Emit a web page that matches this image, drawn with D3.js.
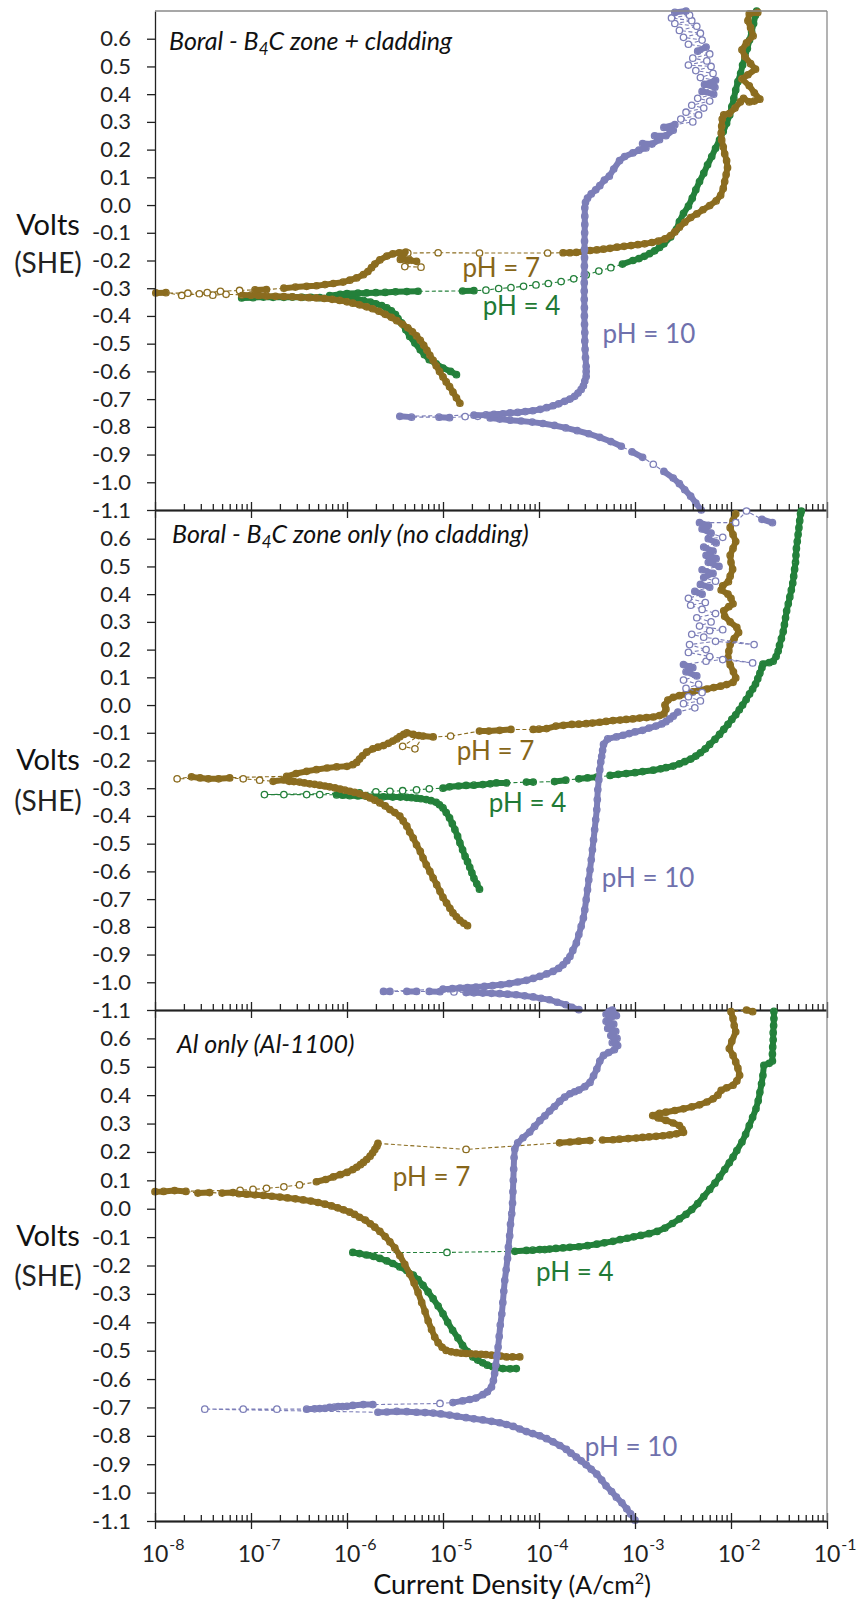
<!DOCTYPE html>
<html lang="en">
<head>
<meta charset="UTF-8">
<title>Polarization curves - Boral and Al-1100</title>
<script src="https://d3js.org/d3.v7.min.js"></script>
<style>
  body { margin: 0; background: #fff; }
  svg { display: block; font-family: Lato, "Open Sans", sans-serif; }
</style>
</head>
<body>
<svg width="861" height="1600"></svg>
<script>
// axis ticks
const yTicks = [0.6, 0.5, 0.4, 0.3, 0.2, 0.1, 0.0, -0.1, -0.2, -0.3, -0.4, -0.5, -0.6, -0.7, -0.8, -0.9, -1.0, -1.1];
const xDecades = [1e-8, 1e-7, 1e-6, 1e-5, 1e-4, 1e-3, 1e-2, 1e-1];
const xExponents = ["-8", "-7", "-6", "-5", "-4", "-3", "-2", "-1"];
const panelTitles = [["Boral - B", "4", "C zone + cladding"], ["Boral - B", "4", "C zone only (no cladding)"], ["Al only (Al-1100)"]];
const phNames = { ph7: "pH = 7", ph4: "pH = 4", ph10: "pH = 10" };

// data: [current density A/cm2, potential V vs SHE], in scan order
// --- panel 1: Boral B4C zone + cladding
const p1_ph7 = [
  [1.5e-5,-0.715],[1.38e-5,-0.695],[1.27e-5,-0.675],[1.17e-5,-0.655],[1.08e-5,-0.638],[1.0e-5,-0.62],[9.2e-6,-0.6],[8.5e-6,-0.58],[7.9e-6,-0.56],[7.3e-6,-0.542],[6.8e-6,-0.524],[6.3e-6,-0.506],[5.8e-6,-0.488],[5.3e-6,-0.472],[4.8e-6,-0.457],[4.3e-6,-0.443],[3.8e-6,-0.43],[3.3e-6,-0.417],[2.9e-6,-0.405],[2.5e-6,-0.394],[2.15e-6,-0.383],[1.85e-6,-0.374],[1.6e-6,-0.367],[1.35e-6,-0.36],[1.15e-6,-0.354],[1.0e-6,-0.349],[8.4e-7,-0.344],[7.0e-7,-0.34],[5.8e-7,-0.337],[4.8e-7,-0.335],[4.0e-7,-0.334],[3.3e-7,-0.333],[2.7e-7,-0.331],[2.2e-7,-0.33],[1.8e-7,-0.329],[1.45e-7,-0.328],[1.2e-7,-0.326],[1.0e-7,-0.325],[8.0e-8,-0.324],[5.5e-8,-0.322],[4.0e-8,-0.325],[2.9e-8,-0.32],[1.9e-8,-0.326],[1.3e-8,-0.316],[1.02e-8,-0.317],
  [2.2e-8,-0.318],[3.5e-8,-0.316],[4.8e-8,-0.311],[7.6e-8,-0.308],[1.1e-7,-0.306],[1.45e-7,-0.305],[2.2e-7,-0.3],[2.9e-7,-0.296],[3.8e-7,-0.293],[4.8e-7,-0.291],[5.9e-7,-0.287],[7.2e-7,-0.283],[9.1e-7,-0.278],[1.07e-6,-0.271],[1.26e-6,-0.263],[1.48e-6,-0.251],[1.65e-6,-0.24],[1.8e-6,-0.226],[1.95e-6,-0.213],[2.2e-6,-0.198],[2.6e-6,-0.184],[3.0e-6,-0.176],[3.5e-6,-0.172],[4.1e-6,-0.17],
  [3.6e-6,-0.196],[4.4e-6,-0.199],[5.3e-6,-0.203],[4.0e-6,-0.222],[5.9e-6,-0.224],
  [4.3e-6,-0.173],[8.9e-6,-0.172],[2.4e-5,-0.173],[1.23e-4,-0.173],[1.78e-4,-0.172],[2.1e-4,-0.172],[2.45e-4,-0.171],[2.9e-4,-0.168],[3.4e-4,-0.164],[4.0e-4,-0.162],[4.7e-4,-0.159],[5.5e-4,-0.156],[6.5e-4,-0.152],[7.7e-4,-0.149],[9.1e-4,-0.146],[1.07e-3,-0.143],[1.26e-3,-0.14],[1.5e-3,-0.135],[1.75e-3,-0.13],[2.05e-3,-0.122],[2.35e-3,-0.11],[2.6e-3,-0.097],[2.9e-3,-0.08],[3.3e-3,-0.062],[3.8e-3,-0.045],[4.4e-3,-0.032],[5.1e-3,-0.017],[6.0e-3,-0.002],[7.0e-3,0.015],[7.8e-3,0.035],[8.3e-3,0.06],[8.6e-3,0.085],[8.9e-3,0.11],[9.2e-3,0.135],[9.0e-3,0.16],[8.6e-3,0.185],[8.3e-3,0.21],[8.0e-3,0.235],[7.9e-3,0.26],[8.0e-3,0.285],[8.1e-3,0.31],[8.4e-3,0.325],[9.6e-3,0.33],[1.1e-2,0.35],[1.25e-2,0.372],[1.35e-2,0.385],[1.55e-2,0.372],[1.75e-2,0.375],[2.0e-2,0.382],[1.75e-2,0.405],[1.55e-2,0.43],[1.3e-2,0.455],[1.5e-2,0.47],[1.8e-2,0.49],[1.6e-2,0.51],[1.4e-2,0.535],[1.3e-2,0.56],[1.45e-2,0.585],[1.7e-2,0.61],[1.6e-2,0.64],[1.5e-2,0.665],[1.55e-2,0.69],[1.9e-2,0.695]
];
const p1_ph4 = [
  [1.38e-5,-0.612],[1.2e-5,-0.6],[1.0e-5,-0.588],[8.5e-6,-0.573],[7.2e-6,-0.558],[6.4e-6,-0.54],[5.8e-6,-0.522],[5.1e-6,-0.498],[4.5e-6,-0.474],[4.1e-6,-0.45],[3.7e-6,-0.425],[3.4e-6,-0.41],[3.2e-6,-0.395],[2.9e-6,-0.382],[2.6e-6,-0.371],[2.3e-6,-0.363],[2.0e-6,-0.356],[1.75e-6,-0.35],[1.48e-6,-0.344],[1.25e-6,-0.34],[1.07e-6,-0.336],[9.0e-7,-0.335],[7.8e-7,-0.334],[6.5e-7,-0.334],[5.2e-7,-0.334],[4.2e-7,-0.333],[3.4e-7,-0.333],[2.7e-7,-0.332],[2.2e-7,-0.333],[1.7e-7,-0.333],[1.35e-7,-0.332],[1.05e-7,-0.334],[8.0e-8,-0.335],
  [6.6e-7,-0.327],[8.5e-7,-0.322],[1.0e-6,-0.319],[1.3e-6,-0.318],[1.6e-6,-0.317],[2.0e-6,-0.316],[2.5e-6,-0.315],[3.2e-6,-0.313],[4.2e-6,-0.312],[5.5e-6,-0.311],[1.6e-5,-0.31],[2.1e-5,-0.309],[2.8e-5,-0.307],[3.8e-5,-0.301],[5.1e-5,-0.298],[6.9e-5,-0.293],[9.3e-5,-0.288],[1.25e-4,-0.283],[1.7e-4,-0.276],[2.3e-4,-0.266],[3.1e-4,-0.252],[4.2e-4,-0.238],[5.6e-4,-0.226],[7.4e-4,-0.213],[9.5e-4,-0.2],[1.1e-3,-0.193],[1.25e-3,-0.185],[1.42e-3,-0.175],[1.6e-3,-0.165],[1.8e-3,-0.153],[2.0e-3,-0.14],[2.35e-3,-0.115],[2.7e-3,-0.088],[2.9e-3,-0.06],[3.2e-3,-0.03],[3.6e-3,-0.004],[3.95e-3,0.025],[4.3e-3,0.055],[4.7e-3,0.085],[5.2e-3,0.115],[5.7e-3,0.145],[6.3e-3,0.175],[6.9e-3,0.205],[7.6e-3,0.235],[8.3e-3,0.265],[9.0e-3,0.295],[9.7e-3,0.325],[1.02e-2,0.355],[1.07e-2,0.385],[1.12e-2,0.415],[1.18e-2,0.445],[1.26e-2,0.475],[1.32e-2,0.505],[1.4e-2,0.535],[1.48e-2,0.565],[1.56e-2,0.595],[1.64e-2,0.625],[1.72e-2,0.655],[1.8e-2,0.685],[1.85e-2,0.7]
];
const p1_ph10 = [
  [4.9e-3,-1.1],[4.3e-3,-1.075],[3.8e-3,-1.05],[3.3e-3,-1.027],[2.9e-3,-1.005],[2.5e-3,-0.985],[2.0e-3,-0.961],[1.55e-3,-0.935],[1.2e-3,-0.91],[9.3e-4,-0.89],[7.2e-4,-0.87],[5.6e-4,-0.853],[4.3e-4,-0.838],[3.3e-4,-0.825],[2.5e-4,-0.814],[1.9e-4,-0.804],[1.45e-4,-0.795],[1.1e-4,-0.788],[8.5e-5,-0.783],[6.5e-5,-0.779],[5.0e-5,-0.776],[3.9e-5,-0.772],[3.1e-5,-0.768],[2.3e-5,-0.762],[1.7e-5,-0.763],[1.17e-5,-0.767],[9.1e-6,-0.765],[4.7e-6,-0.765],[3.55e-6,-0.762],
  [2.1e-5,-0.758],[2.8e-5,-0.757],[3.4e-5,-0.755],[4.2e-5,-0.753],[5.0e-5,-0.75],[6.0e-5,-0.748],[7.2e-5,-0.745],[8.6e-5,-0.742],[1.03e-4,-0.737],[1.2e-4,-0.731],[1.4e-4,-0.724],[1.6e-4,-0.717],[1.85e-4,-0.708],[2.1e-4,-0.7],[2.35e-4,-0.69],[2.55e-4,-0.678],[2.75e-4,-0.665],[2.9e-4,-0.652],[3.0e-4,-0.635],[3.1e-4,-0.618],[3.1e-4,-0.6],[3.1e-4,-0.582],[3.05e-4,-0.55],[3.02e-4,-0.52],[3.0e-4,-0.49],[3.0e-4,-0.46],[2.98e-4,-0.43],[2.97e-4,-0.4],[2.97e-4,-0.37],[2.96e-4,-0.34],[2.96e-4,-0.31],[2.96e-4,-0.28],[2.97e-4,-0.25],[2.97e-4,-0.22],[2.98e-4,-0.19],[2.98e-4,-0.16],[2.98e-4,-0.13],[2.99e-4,-0.1],[3.0e-4,-0.07],[3.0e-4,-0.04],[3.0e-4,-0.01],[3.05e-4,0.01],[3.2e-4,0.025],[3.5e-4,0.04],[3.9e-4,0.055],[4.3e-4,0.07],[4.8e-4,0.09],[5.4e-4,0.104],[6.0e-4,0.13],[6.9e-4,0.16],[7.8e-4,0.175],[9.5e-4,0.188],[1.1e-3,0.198],[1.3e-3,0.206],[1.2e-3,0.222],[1.5e-3,0.22],[1.8e-3,0.236],[1.6e-3,0.25],[2.1e-3,0.25],[2.5e-3,0.27],[2.0e-3,0.28],
  [2.6e-3,0.29],[4.0e-3,0.3],[3.0e-3,0.31],[4.6e-3,0.325],[3.4e-3,0.335],[5.2e-3,0.35],[3.9e-3,0.36],[6.0e-3,0.375],[4.5e-3,0.385],[6.6e-3,0.4],[5.0e-3,0.41],[6.8e-3,0.425],[5.3e-3,0.435],[6.9e-3,0.45],[4.8e-3,0.46],[6.5e-3,0.475],[4.3e-3,0.485],[6.2e-3,0.5],[3.6e-3,0.505],[5.6e-3,0.52],[4.0e-3,0.53],[6.0e-3,0.545],[4.5e-3,0.555],[5.5e-3,0.57],[3.6e-3,0.58],[5.0e-3,0.595],[3.2e-3,0.605],[4.8e-3,0.62],[2.9e-3,0.63],[4.4e-3,0.645],[2.6e-3,0.655],[3.9e-3,0.665],[2.4e-3,0.675],[3.7e-3,0.685],[2.6e-3,0.695],[3.4e-3,0.7]
];
// --- panel 2: Boral B4C zone only
const p2_ph7 = [
  [1.8e-5,-0.796],[1.65e-5,-0.787],[1.5e-5,-0.777],[1.38e-5,-0.764],[1.27e-5,-0.75],[1.18e-5,-0.733],[1.09e-5,-0.714],[1.0e-5,-0.694],[9.3e-6,-0.672],[8.6e-6,-0.648],[7.9e-6,-0.624],[7.3e-6,-0.6],[6.7e-6,-0.576],[6.2e-6,-0.552],[5.8e-6,-0.528],[5.3e-6,-0.504],[4.9e-6,-0.48],[4.5e-6,-0.458],[4.2e-6,-0.437],[3.85e-6,-0.418],[3.55e-6,-0.401],[3.15e-6,-0.388],[2.8e-6,-0.377],[2.5e-6,-0.364],[2.2e-6,-0.353],[1.95e-6,-0.343],[1.74e-6,-0.335],[1.55e-6,-0.327],[1.35e-6,-0.32],[1.2e-6,-0.315],[1.07e-6,-0.311],[9.5e-7,-0.307],[8.5e-7,-0.303],[7.5e-7,-0.299],[6.6e-7,-0.295],[5.9e-7,-0.292],[5.2e-7,-0.289],[4.6e-7,-0.286],[4.1e-7,-0.284],[3.6e-7,-0.281],[3.2e-7,-0.278],[2.8e-7,-0.276],[2.5e-7,-0.275],[2.2e-7,-0.27],
  [1.7e-7,-0.275],[1.23e-7,-0.271],[8.3e-8,-0.266],[6.0e-8,-0.263],[4.6e-8,-0.266],[3.6e-8,-0.266],[2.95e-8,-0.263],[2.4e-8,-0.259],[1.7e-8,-0.266],
  [2.35e-7,-0.257],[2.95e-7,-0.247],[3.8e-7,-0.239],[4.8e-7,-0.233],[6.2e-7,-0.227],[7.8e-7,-0.223],[1.0e-6,-0.221],[1.15e-6,-0.215],[1.26e-6,-0.207],[1.35e-6,-0.195],[1.45e-6,-0.183],[1.6e-6,-0.17],[1.86e-6,-0.158],[2.1e-6,-0.152],[2.4e-6,-0.146],[2.7e-6,-0.138],[3.0e-6,-0.13],[3.3e-6,-0.122],[3.55e-6,-0.114],[3.9e-6,-0.106],[4.2e-6,-0.1],[4.9e-6,-0.106],[5.6e-6,-0.11],
  [3.8e-6,-0.149],[5.1e-6,-0.158],
  [6.2e-6,-0.112],[7.9e-6,-0.115],[1.2e-5,-0.112],[2.4e-5,-0.094],[3.0e-5,-0.094],[3.9e-5,-0.091],[5.1e-5,-0.088],[8.7e-5,-0.088],[1.0e-4,-0.087],[1.2e-4,-0.085],[1.5e-4,-0.076],[1.8e-4,-0.073],[2.2e-4,-0.07],[2.6e-4,-0.069],[3.1e-4,-0.067],[3.6e-4,-0.065],[4.3e-4,-0.062],[5.0e-4,-0.059],[5.9e-4,-0.056],[7.0e-4,-0.054],[8.1e-4,-0.052],[9.5e-4,-0.05],[1.12e-3,-0.047],[1.32e-3,-0.045],[1.55e-3,-0.043],[1.8e-3,-0.038],[2.0e-3,-0.032],[2.1e-3,-0.015],[2.05e-3,0.0],[2.2e-3,0.018],[2.5e-3,0.028],[2.9e-3,0.034],[3.4e-3,0.04],[4.0e-3,0.048],[4.7e-3,0.054],[5.6e-3,0.058],[6.6e-3,0.063],[7.8e-3,0.068],[9.0e-3,0.074],[1.05e-2,0.082],[1.12e-2,0.098],[1.06e-2,0.12],[9.8e-3,0.145],[9.3e-3,0.17],[9.5e-3,0.195],[9.8e-3,0.218],[1.08e-2,0.24],[1.2e-2,0.262],[1.15e-2,0.28],[9.8e-3,0.3],[8.6e-3,0.32],[8.4e-3,0.34],[9.5e-3,0.355],[1.05e-2,0.365],[1.0e-2,0.385],[9.3e-3,0.4],[7.9e-3,0.415],[8.2e-3,0.43],[9.4e-3,0.445],[9.8e-3,0.465],[1.04e-2,0.49],[1.0e-2,0.515],[9.8e-3,0.54],[1.05e-2,0.565],[1.12e-2,0.59],[1.05e-2,0.615],[9.8e-3,0.64],[1.05e-2,0.665],[1.12e-2,0.69]
];
const p2_ph4 = [
  [2.4e-5,-0.664],[2.25e-5,-0.645],[2.1e-5,-0.625],[2.0e-5,-0.605],[1.9e-5,-0.585],[1.8e-5,-0.565],[1.7e-5,-0.546],[1.6e-5,-0.522],[1.5e-5,-0.497],[1.42e-5,-0.473],[1.33e-5,-0.449],[1.25e-5,-0.428],[1.17e-5,-0.407],[1.08e-5,-0.388],[1.0e-5,-0.371],[9.2e-6,-0.36],[8.5e-6,-0.351],[7.5e-6,-0.345],[6.7e-6,-0.341],[5.9e-6,-0.338],[5.3e-6,-0.336],[4.7e-6,-0.334],[4.2e-6,-0.333],[3.6e-6,-0.332],[3.0e-6,-0.332],[2.4e-6,-0.331],[2.0e-6,-0.33],[1.6e-6,-0.329],[1.3e-6,-0.328],[1.07e-6,-0.327],[9.0e-7,-0.325],[7.8e-7,-0.324],
  [5.2e-7,-0.323],[3.8e-7,-0.323],[2.2e-7,-0.323],[1.38e-7,-0.323],
  [1.35e-6,-0.317],[2.0e-6,-0.313],[2.8e-6,-0.311],[3.8e-6,-0.309],[5.3e-6,-0.306],[7.2e-6,-0.302],[1.0e-5,-0.3],[1.17e-5,-0.295],[1.45e-5,-0.292],[1.74e-5,-0.29],[2.1e-5,-0.289],[2.6e-5,-0.287],[3.1e-5,-0.284],[3.6e-5,-0.281],[4.6e-5,-0.281],[7.4e-5,-0.278],[8.7e-5,-0.278],[1.45e-4,-0.276],[1.9e-4,-0.271],[2.6e-4,-0.266],[3.2e-4,-0.263],[4.0e-4,-0.26],[5.5e-4,-0.254],[6.7e-4,-0.25],[8.1e-4,-0.247],[1.0e-3,-0.244],[1.2e-3,-0.24],[1.55e-3,-0.235],[1.85e-3,-0.23],[2.1e-3,-0.226],[2.5e-3,-0.22],[2.9e-3,-0.212],[3.3e-3,-0.204],[3.8e-3,-0.195],[4.3e-3,-0.184],[4.8e-3,-0.172],[5.4e-3,-0.158],[6.0e-3,-0.142],[6.8e-3,-0.124],[7.6e-3,-0.106],[8.4e-3,-0.088],[9.3e-3,-0.07],[1.02e-2,-0.052],[1.12e-2,-0.035],[1.22e-2,-0.017],[1.32e-2,0.0],[1.44e-2,0.02],[1.56e-2,0.04],[1.68e-2,0.058],[1.8e-2,0.076],[1.9e-2,0.095],[2.0e-2,0.115],[2.1e-2,0.135],[2.15e-2,0.148],[2.5e-2,0.153],[2.75e-2,0.158],[2.95e-2,0.175],[3.1e-2,0.195],[3.2e-2,0.215],[3.35e-2,0.24],[3.5e-2,0.265],[3.6e-2,0.29],[3.7e-2,0.315],[3.8e-2,0.34],[3.95e-2,0.365],[4.1e-2,0.39],[4.25e-2,0.415],[4.4e-2,0.44],[4.5e-2,0.465],[4.6e-2,0.49],[4.7e-2,0.515],[4.75e-2,0.54],[4.8e-2,0.565],[4.9e-2,0.59],[5.0e-2,0.615],[5.1e-2,0.64],[5.2e-2,0.665],[5.3e-2,0.69],[5.4e-2,0.7]
];
const p2_ph10 = [
  [2.6e-4,-1.099],[2.2e-4,-1.09],[1.9e-4,-1.081],[1.55e-4,-1.072],[1.29e-4,-1.063],[1.05e-4,-1.058],[8.7e-5,-1.053],[7.1e-5,-1.049],[5.8e-5,-1.045],[4.7e-5,-1.043],[3.9e-5,-1.041],[3.2e-5,-1.04],[2.6e-5,-1.039],[2.1e-5,-1.038],[1.74e-5,-1.037],[1.3e-5,-1.035],[9.3e-6,-1.034],[7.2e-6,-1.033],[5.3e-6,-1.033],[4.2e-6,-1.033],[2.8e-6,-1.033],[2.4e-6,-1.033],
  [1.0e-5,-1.025],[1.25e-5,-1.023],[1.5e-5,-1.021],[1.8e-5,-1.019],[2.2e-5,-1.017],[2.7e-5,-1.015],[3.3e-5,-1.012],[4.0e-5,-1.009],[4.9e-5,-1.005],[6.0e-5,-0.999],[7.4e-5,-0.993],[8.7e-5,-0.986],[1.02e-4,-0.979],[1.2e-4,-0.97],[1.4e-4,-0.961],[1.6e-4,-0.95],[1.78e-4,-0.937],[1.95e-4,-0.922],[2.1e-4,-0.907],[2.25e-4,-0.885],[2.45e-4,-0.858],[2.6e-4,-0.828],[2.75e-4,-0.798],[2.9e-4,-0.768],[3.0e-4,-0.738],[3.1e-4,-0.702],[3.2e-4,-0.666],[3.3e-4,-0.63],[3.4e-4,-0.594],[3.5e-4,-0.558],[3.6e-4,-0.522],[3.7e-4,-0.486],[3.8e-4,-0.449],[3.9e-4,-0.413],[4.0e-4,-0.377],[4.05e-4,-0.341],[4.1e-4,-0.305],[4.2e-4,-0.269],[4.3e-4,-0.233],[4.4e-4,-0.205],[4.5e-4,-0.185],[4.6e-4,-0.163],[4.7e-4,-0.142],[5.2e-4,-0.122],[6.4e-4,-0.115],[7.5e-4,-0.109],[8.7e-4,-0.103],[1.0e-3,-0.097],[1.2e-3,-0.091],[1.4e-3,-0.083],[1.65e-3,-0.076],[1.9e-3,-0.068],[2.1e-3,-0.06],[2.3e-3,-0.05],[2.5e-3,-0.04],
  [2.8e-3,-0.025],[4.2e-3,-0.01],[3.2e-3,0.005],[4.8e-3,0.015],[3.6e-3,0.03],[5.0e-3,0.045],[3.4e-3,0.06],[4.6e-3,0.075],[3.2e-3,0.09],[4.4e-3,0.105],[3.4e-3,0.12],[4.0e-3,0.135],[3.2e-3,0.146],[5.5e-3,0.158],[8.2e-3,0.164],[1.68e-2,0.152],[6.0e-3,0.175],[3.6e-3,0.19],[5.5e-3,0.2],[3.7e-3,0.218],[6.9e-3,0.23],[1.74e-2,0.218],[5.2e-3,0.245],[3.9e-3,0.255],[6.0e-3,0.268],[8.2e-3,0.272],[4.7e-3,0.285],[6.2e-3,0.3],[4.4e-3,0.315],[6.9e-3,0.33],[5.0e-3,0.345],[3.8e-3,0.36],[5.4e-3,0.37],[3.6e-3,0.385],[5.0e-3,0.4],[4.2e-3,0.41],[6.0e-3,0.425],[4.8e-3,0.435],[6.9e-3,0.447],[5.2e-3,0.46],[6.5e-3,0.475],[5.0e-3,0.488],[7.5e-3,0.5],[5.8e-3,0.515],[7.0e-3,0.528],[5.5e-3,0.54],[6.5e-3,0.555],[5.2e-3,0.57],[7.0e-3,0.585],[5.8e-3,0.6],[8.2e-3,0.605],[6.2e-3,0.62],[5.0e-3,0.635],[5.8e-3,0.648],[4.7e-3,0.658],[1.12e-2,0.658],[1.45e-2,0.7],[2.1e-2,0.67],[2.7e-2,0.658]
];
// --- panel 3: Al only (Al-1100)
const p3_ph7 = [
  [6.3e-5,-0.522],[5.3e-5,-0.522],[4.6e-5,-0.522],[4.0e-5,-0.519],[3.6e-5,-0.517],[3.2e-5,-0.516],[2.8e-5,-0.514],[2.5e-5,-0.513],[2.2e-5,-0.512],[1.95e-5,-0.511],[1.74e-5,-0.51],[1.55e-5,-0.509],[1.38e-5,-0.507],[1.22e-5,-0.504],[1.08e-5,-0.499],[9.8e-6,-0.488],[8.9e-6,-0.472],[8.2e-6,-0.452],[7.6e-6,-0.425],[7.0e-6,-0.395],[6.5e-6,-0.362],[6.0e-6,-0.33],[5.5e-6,-0.295],[5.0e-6,-0.262],[4.5e-6,-0.23],[4.0e-6,-0.196],[3.55e-6,-0.165],[3.15e-6,-0.138],[2.8e-6,-0.117],[2.5e-6,-0.098],[2.2e-6,-0.08],[1.95e-6,-0.065],[1.75e-6,-0.053],[1.55e-6,-0.04],[1.35e-6,-0.03],[1.2e-6,-0.02],[1.07e-6,-0.012],[9.2e-7,-0.004],[8.0e-7,0.003],[6.9e-7,0.01],[5.9e-7,0.016],[5.0e-7,0.022],[4.2e-7,0.027],[3.5e-7,0.031],[2.9e-7,0.035],[2.4e-7,0.038],[2.0e-7,0.041],[1.65e-7,0.044],[1.35e-7,0.047],[1.1e-7,0.049],[9.0e-8,0.051],[7.5e-8,0.053],
  [6.5e-8,0.057],[5.0e-8,0.055],[3.7e-8,0.057],[2.8e-8,0.055],[2.1e-8,0.061],[1.6e-8,0.064],[1.23e-8,0.061],[1.0e-8,0.06],
  [7.7e-8,0.065],[1.05e-7,0.068],[1.45e-7,0.072],[2.2e-7,0.077],[3.2e-7,0.084],[4.8e-7,0.095],[6.0e-7,0.103],[7.2e-7,0.112],[8.5e-7,0.12],[1.0e-6,0.128],[1.15e-6,0.138],[1.26e-6,0.146],[1.38e-6,0.155],[1.48e-6,0.163],[1.6e-6,0.173],[1.74e-6,0.185],[1.85e-6,0.197],[1.95e-6,0.209],[2.05e-6,0.22],[2.1e-6,0.23],
  [1.74e-5,0.209],[1.64e-4,0.232],[2.1e-4,0.235],[2.6e-4,0.238],[3.4e-4,0.24],[4.6e-4,0.242],[5.9e-4,0.243],[6.9e-4,0.245],[8.5e-4,0.247],[1.03e-3,0.249],[1.2e-3,0.251],[1.4e-3,0.253],[1.66e-3,0.255],[1.95e-3,0.257],[2.3e-3,0.26],[2.7e-3,0.264],[3.2e-3,0.269],[3.1e-3,0.28],[2.9e-3,0.293],[2.5e-3,0.302],[2.1e-3,0.311],[1.75e-3,0.32],[1.53e-3,0.328],[1.8e-3,0.336],[2.1e-3,0.34],[2.6e-3,0.346],[3.2e-3,0.352],[3.9e-3,0.359],[4.7e-3,0.366],[5.6e-3,0.376],[6.5e-3,0.387],[7.3e-3,0.4],[7.9e-3,0.417],[9.0e-3,0.426],[1.05e-2,0.435],[1.15e-2,0.45],[1.23e-2,0.47],[1.18e-2,0.495],[1.12e-2,0.517],[1.05e-2,0.54],[9.6e-3,0.564],[1.02e-2,0.59],[1.12e-2,0.623],[1.08e-2,0.645],[1.05e-2,0.67],[1.0e-2,0.694],[1.45e-2,0.7],[1.68e-2,0.694]
];
const p3_ph4 = [
  [5.8e-5,-0.563],[5.0e-5,-0.564],[4.2e-5,-0.563],[3.7e-5,-0.56],[3.3e-5,-0.557],[2.9e-5,-0.551],[2.6e-5,-0.543],[2.3e-5,-0.533],[2.05e-5,-0.522],[1.8e-5,-0.503],[1.6e-5,-0.481],[1.43e-5,-0.455],[1.26e-5,-0.428],[1.12e-5,-0.4],[1.0e-5,-0.37],[8.9e-6,-0.343],[7.9e-6,-0.317],[7.0e-6,-0.293],[6.2e-6,-0.27],[5.5e-6,-0.25],[4.9e-6,-0.234],[4.2e-6,-0.218],[3.55e-6,-0.205],[3.0e-6,-0.193],[2.6e-6,-0.184],[2.2e-6,-0.175],[1.9e-6,-0.168],[1.6e-6,-0.163],[1.35e-6,-0.158],[1.15e-6,-0.154],
  [1.1e-5,-0.154],[5.6e-5,-0.15],[7.4e-5,-0.147],[8.6e-5,-0.146],[1.02e-4,-0.144],[1.15e-4,-0.144],[1.29e-4,-0.142],[1.5e-4,-0.14],[1.78e-4,-0.138],[2.1e-4,-0.136],[2.6e-4,-0.134],[3.2e-4,-0.13],[4.0e-4,-0.125],[4.8e-4,-0.12],[5.9e-4,-0.115],[7.0e-4,-0.109],[8.3e-4,-0.104],[9.7e-4,-0.099],[1.15e-3,-0.094],[1.4e-3,-0.088],[1.7e-3,-0.08],[2.05e-3,-0.068],[2.45e-3,-0.052],[2.9e-3,-0.036],[3.4e-3,-0.02],[3.9e-3,-0.003],[4.5e-3,0.018],[5.2e-3,0.043],[6.0e-3,0.068],[6.8e-3,0.09],[7.6e-3,0.112],[8.6e-3,0.138],[9.6e-3,0.162],[1.05e-2,0.182],[1.15e-2,0.205],[1.3e-2,0.235],[1.42e-2,0.262],[1.55e-2,0.293],[1.68e-2,0.322],[1.82e-2,0.352],[1.92e-2,0.38],[2.0e-2,0.41],[2.08e-2,0.44],[2.15e-2,0.47],[2.2e-2,0.505],[2.5e-2,0.512],[2.7e-2,0.52],[2.7e-2,0.545],[2.72e-2,0.57],[2.75e-2,0.595],[2.75e-2,0.62],[2.78e-2,0.645],[2.8e-2,0.67],[2.8e-2,0.695]
];
const p3_ph10 = [
  [1.0e-3,-1.097],[9.0e-4,-1.075],[8.2e-4,-1.057],[7.3e-4,-1.036],[6.4e-4,-1.016],[5.7e-4,-0.996],[5.0e-4,-0.976],[4.5e-4,-0.956],[4.0e-4,-0.935],[3.5e-4,-0.918],[3.1e-4,-0.902],[2.75e-4,-0.888],[2.45e-4,-0.875],[2.15e-4,-0.861],[1.93e-4,-0.848],[1.65e-4,-0.834],[1.4e-4,-0.821],[1.2e-4,-0.81],[1.02e-4,-0.8],[8.6e-5,-0.792],[7.4e-5,-0.785],[6.3e-5,-0.776],[5.4e-5,-0.767],[4.6e-5,-0.76],[3.9e-5,-0.754],[3.2e-5,-0.749],[2.6e-5,-0.744],[2.1e-5,-0.74],[1.74e-5,-0.736],[1.4e-5,-0.731],[1.17e-5,-0.727],[9.5e-6,-0.723],[7.9e-6,-0.72],[6.5e-6,-0.718],[5.3e-6,-0.717],[4.2e-6,-0.715],[3.3e-6,-0.714],[2.6e-6,-0.716],[2.1e-6,-0.717],
  [3.3e-8,-0.706],[8.3e-8,-0.706],[1.86e-7,-0.706],[3.8e-7,-0.706],[4.6e-7,-0.705],[5.2e-7,-0.704],[5.9e-7,-0.703],[6.6e-7,-0.7],[7.4e-7,-0.699],[8.1e-7,-0.697],[9.0e-7,-0.697],[1.0e-6,-0.696],[1.15e-6,-0.693],[1.48e-6,-0.69],[1.86e-6,-0.69],
  [9.3e-6,-0.686],[1.27e-5,-0.683],[1.6e-5,-0.677],[1.9e-5,-0.672],[2.2e-5,-0.667],[2.6e-5,-0.655],[2.9e-5,-0.645],[3.2e-5,-0.628],[3.35e-5,-0.605],[3.45e-5,-0.58],[3.55e-5,-0.55],[3.65e-5,-0.518],[3.75e-5,-0.487],[3.85e-5,-0.45],[3.95e-5,-0.41],[4.1e-5,-0.37],[4.2e-5,-0.33],[4.3e-5,-0.29],[4.4e-5,-0.252],[4.55e-5,-0.215],[4.7e-5,-0.175],[4.8e-5,-0.135],[4.95e-5,-0.095],[5.05e-5,-0.055],[5.2e-5,-0.017],[5.3e-5,0.02],[5.35e-5,0.06],[5.4e-5,0.1],[5.45e-5,0.14],[5.5e-5,0.18],[5.6e-5,0.21],[6.0e-5,0.232],[6.8e-5,0.25],[8.0e-5,0.27],[9.0e-5,0.29],[1.02e-4,0.31],[1.15e-4,0.327],[1.29e-4,0.344],[1.45e-4,0.36],[1.64e-4,0.378],[1.85e-4,0.393],[2.1e-4,0.405],[2.35e-4,0.412],[2.6e-4,0.418],[3.0e-4,0.43],[3.4e-4,0.445],[3.7e-4,0.468],[4.0e-4,0.492],[4.3e-4,0.52],[4.7e-4,0.54],[5.3e-4,0.55],[6.1e-4,0.56],[6.6e-4,0.575],[5.8e-4,0.585],[6.5e-4,0.6],[5.6e-4,0.61],[6.3e-4,0.625],[5.2e-4,0.635],[6.0e-4,0.65],[5.0e-4,0.66],[5.7e-4,0.675],[5.0e-4,0.685],[5.4e-4,0.695],[6.4e-4,0.68],[5.8e-4,0.7]
];

const colors = { ph7: "#8b6c1f", ph4: "#23803a", ph10: "#7c7eb8" };
const textColors = { ph7: "#876619", ph4: "#1f7a35", ph10: "#6f71ad" };

const panels = [
  { top: 11, bottom: 510, data: { ph4: p1_ph4, ph7: p1_ph7, ph10: p1_ph10 },
    title: { x: 169, y: 50 }, volts: [235, 273],
    labels: { ph7: [1.6e-5, -0.258], ph4: [2.6e-5, -0.395], ph10: [4.6e-4, -0.496] } },
  { top: 511, bottom: 1010, data: { ph4: p2_ph4, ph7: p2_ph7, ph10: p2_ph10 },
    title: { x: 172, y: 543 }, volts: [770, 811],
    labels: { ph7: [1.39e-5, -0.197], ph4: [3.0e-5, -0.385], ph10: [4.5e-4, -0.655] } },
  { top: 1010, bottom: 1521, data: { ph4: p3_ph4, ph7: p3_ph7, ph10: p3_ph10 },
    title: { x: 177, y: 1053 }, volts: [1246, 1286],
    labels: { ph7: [3.0e-6, 0.079], ph4: [9.3e-5, -0.255], ph10: [3.0e-4, -0.87] } }
];

const svg = d3.select("svg");
const x = d3.scaleLog().domain([1e-8, 1e-1]).range([155, 827]);
const xMinor = [];
xDecades.slice(0, -1).forEach(d => { for (let m = 2; m <= 9; m++) xMinor.push(m * d); });
const NEAR = 12; // px: closer points merge into a solid band

function drawCurve(g, pts, color, y) {
  const px = pts.map(d => [x(d[0]), y(d[1])]);
  g.append("path").attr("d", d3.line()(px))
    .attr("fill", "none").attr("stroke", color).attr("stroke-width", 1.1).attr("stroke-dasharray", "4,2.5");
  g.selectAll(null).data(pts).join("circle")
    .attr("cx", d => x(d[0])).attr("cy", d => y(d[1])).attr("r", 3.2)
    .attr("fill", "#fff").attr("stroke", color).attr("stroke-width", 1.3);
  const runs = [];
  let run = [px[0]];
  for (let k = 1; k < px.length; k++) {
    const dist = Math.hypot(px[k][0] - px[k - 1][0], px[k][1] - px[k - 1][1]);
    if (dist <= NEAR) run.push(px[k]);
    else { if (run.length > 1) runs.push(run); run = [px[k]]; }
  }
  if (run.length > 1) runs.push(run);
  runs.forEach(r => g.append("path").attr("d", d3.line()(r))
    .attr("fill", "none").attr("stroke", color).attr("stroke-width", 6)
    .attr("stroke-linecap", "round").attr("stroke-linejoin", "round"));
}

panels.forEach((p, pi) => {
  const y = d3.scaleLinear().domain([-1.1, 0.7]).range([p.bottom, p.top]);

  // curves
  const gc = svg.append("g");
  ["ph4", "ph7", "ph10"].forEach(k => drawCurve(gc.append("g"), p.data[k], colors[k], y));

  // pH labels
  ["ph7", "ph4", "ph10"].forEach(k => {
    svg.append("text").attr("x", x(p.labels[k][0])).attr("y", y(p.labels[k][1]))
      .attr("font-size", 26).attr("fill", textColors[k]).text(phNames[k]);
  });

  // y axis
  const gy = svg.append("g").attr("transform", "translate(155,0)")
    .call(d3.axisLeft(y).tickValues(yTicks).tickFormat(d => d.toFixed(1)).tickSize(8).tickSizeOuter(0).tickPadding(16));
  gy.attr("font-family", null).attr("font-size", null);
  gy.selectAll("path, line").attr("stroke", "#222").attr("stroke-width", 1.3);
  gy.selectAll("text").attr("font-size", 22).attr("fill", "#222");

  // x axis at panel bottom
  const gx = svg.append("g").attr("transform", `translate(0,${p.bottom})`);
  gx.append("g").call(d3.axisTop(x).tickValues(xMinor).tickSize(6).tickSizeOuter(0).tickFormat(""));
  gx.append("g").call(d3.axisTop(x).tickValues(xDecades).tickSize(8).tickSizeOuter(0).tickFormat(""));
  gx.append("g").call(d3.axisBottom(x).tickValues(xDecades).tickSize(8).tickSizeOuter(0).tickFormat(""));
  gx.selectAll("path, line").attr("stroke", "#222").attr("stroke-width", 1.3);

  // panel title
  const tt = svg.append("text").attr("x", p.title.x).attr("y", p.title.y)
    .attr("font-size", 25).attr("font-style", "italic").attr("fill", "#111");
  const parts = panelTitles[pi];
  tt.append("tspan").text(parts[0]);
  if (parts.length > 1) {
    tt.append("tspan").attr("font-size", 17).attr("dy", 5).text(parts[1]);
    tt.append("tspan").attr("dy", -5).text(parts[2]);
  }

  // y title
  svg.append("text").attr("x", 48).attr("y", p.volts[0]).attr("text-anchor", "middle")
    .attr("font-size", 29).attr("fill", "#111").text("Volts");
  svg.append("text").attr("x", 48).attr("y", p.volts[1]).attr("text-anchor", "middle")
    .attr("font-size", 28).attr("fill", "#222").text("(SHE)");
});

// frame: top and right borders
svg.append("line").attr("x1", 155).attr("x2", 827).attr("y1", 11).attr("y2", 11)
  .attr("stroke", "#8a8a8a").attr("stroke-width", 1.3);
svg.append("line").attr("x1", 827).attr("x2", 827).attr("y1", 11).attr("y2", 1521)
  .attr("stroke", "#8a8a8a").attr("stroke-width", 1.3);

// x tick labels (bottom panel)
xDecades.forEach((d, k) => {
  const t = svg.append("text").attr("x", x(d)).attr("y", 1562).attr("text-anchor", "middle")
    .attr("font-size", 23).attr("fill", "#222").text("10");
  const w = t.node().getComputedTextLength();
  svg.append("text").attr("x", x(d) + w / 2 + 1).attr("y", 1550)
    .attr("font-size", 16).attr("fill", "#222").text(xExponents[k]);
});

// x title
const xt = svg.append("text").attr("x", 512).attr("y", 1594).attr("text-anchor", "middle")
  .attr("font-size", 27).attr("fill", "#111");
xt.append("tspan").text("Current Density ");
xt.append("tspan").attr("font-size", 25).text("(A/cm");
xt.append("tspan").attr("font-size", 16).attr("dy", -10).text("2");
xt.append("tspan").attr("font-size", 25).attr("dy", 10).text(")");
</script>
</body>
</html>
